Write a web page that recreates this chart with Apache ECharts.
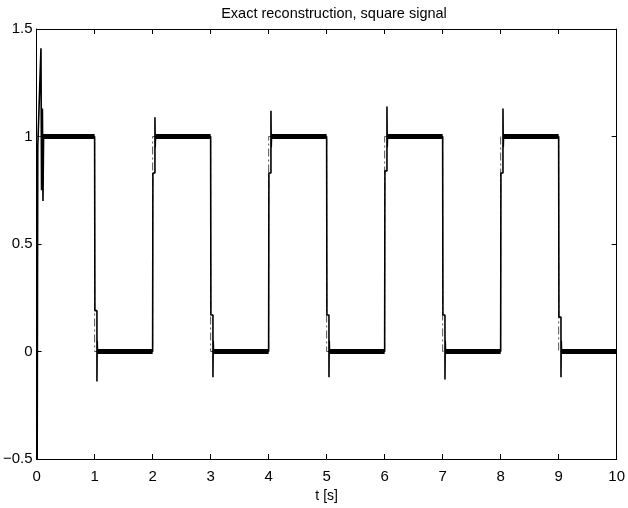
<!DOCTYPE html>
<html>
<head>
<meta charset="utf-8">
<script src="https://cdn.jsdelivr.net/npm/echarts@6/dist/echarts.min.js"></script>
<style>html,body{margin:0;padding:0;background:#fff;}#c{width:628px;height:508px;}</style>
</head>
<body>
<div id="c"></div>
<script>
// Reference square signal (dashed)
const refT = [0, 1, 1, 2, 2, 3, 3, 4, 4, 5, 5, 6, 6, 7, 7, 8, 8, 9, 9, 10];
const refV = [1, 1, 0, 0, 1, 1, 0, 0, 1, 1, 0, 0, 1, 1, 0, 0, 1, 1, 0, 0];

// Reconstruction: transients (thin solid line)
const recT = [0.01, 0.02, 0.075, 0.085, 0.1, 0.11, 0.12, 1.0,
  1.005, 1.04, 1.04, 1.045, 1.05, 2.0,
  2.005, 2.04, 2.04, 2.045, 2.05, 3.0,
  3.005, 3.04, 3.04, 3.045, 3.05, 4.0,
  4.005, 4.04, 4.04, 4.045, 4.05, 5.0,
  5.005, 5.04, 5.04, 5.045, 5.05, 6.0,
  6.005, 6.04, 6.04, 6.045, 6.05, 7.0,
  7.005, 7.04, 7.04, 7.045, 7.05, 8.0,
  8.005, 8.04, 8.04, 8.045, 8.05, 9.0,
  9.005, 9.04, 9.04, 9.045, 9.05, 10.0];
const recV = [-0.5, 0.95, 1.41, 0.75, 1.13, 0.70, 1.0, 1.0,
  0.19, 0.19, -0.14, 0.05, 0.0, 0.0,
  0.83, 0.83, 1.09, 0.95, 1.0, 1.0,
  0.17, 0.17, -0.12, 0.05, 0.0, 0.0,
  0.83, 0.83, 1.12, 0.95, 1.0, 1.0,
  0.17, 0.17, -0.12, 0.05, 0.0, 0.0,
  0.84, 0.84, 1.14, 0.95, 1.0, 1.0,
  0.17, 0.17, -0.13, 0.05, 0.0, 0.0,
  0.83, 0.83, 1.13, 0.95, 1.0, 1.0,
  0.16, 0.16, -0.12, 0.05, 0.0, 0.0];

// Reconstruction plateaus (thick band from small ringing)
const platStart = [0.11, 1.05, 2.05, 3.05, 4.05, 5.05, 6.05, 7.05, 8.05, 9.05];
const platEnd   = [1.0, 2.0, 3.0, 4.0, 5.0, 6.0, 7.0, 8.0, 9.0, 10.0];
const platLevel = [1.0, 0.0, 1.0, 0.0, 1.0, 0.0, 1.0, 0.0, 1.0, 0.0];

const xTicks = ['0','1','2','3','4','5','6','7','8','9','10'];
const yTicks = ['-0.5','0','0.5','1','1.5'];

const refData = refT.map((t, i) => [t, refV[i]]);
const recData = recT.map((t, i) => [t, recV[i]]);
const platData = [];
platStart.forEach((s, i) => {
  platData.push([s, platLevel[i]]);
  platData.push([platEnd[i], platLevel[i]]);
  platData.push([platEnd[i], null]);
});

const FONT = 'Liberation Sans';
const chart = echarts.init(document.getElementById('c'), null, {renderer: 'canvas'});
const axisLineStyle = {color: '#000', width: 1};
chart.setOption({
  animation: false,
  backgroundColor: '#fff',
  title: {
    text: 'Exact reconstruction, square signal',
    left: 329, top: 1, textAlign: 'center',
    textStyle: {fontFamily: FONT, fontSize: 14.5, fontWeight: 'normal', color: '#000'}
  },
  grid: {left: 36, top: 29, right: 6, bottom: 49, containLabel: false},
  xAxis: [{
    type: 'value', min: 0, max: 10, interval: 1,
    name: 't [s]', nameLocation: 'middle', nameGap: 23,
    nameTextStyle: {fontFamily: FONT, fontSize: 14, color: '#000'},
    axisLine: {show: true, onZero: false, lineStyle: axisLineStyle},
    axisTick: {show: true, inside: true, length: 5, lineStyle: axisLineStyle},
    axisLabel: {fontFamily: FONT, fontSize: 15, color: '#000', margin: 10,
      formatter: v => xTicks[Math.round(v)]},
    splitLine: {show: false}
  }, {
    type: 'value', min: 0, max: 10, interval: 1, position: 'top',
    axisLine: {show: true, onZero: false, lineStyle: axisLineStyle},
    axisTick: {show: true, inside: true, length: 5, lineStyle: axisLineStyle},
    axisLabel: {show: false}, splitLine: {show: false}
  }],
  yAxis: [{
    type: 'value', min: -0.5, max: 1.5, interval: 0.5,
    axisLine: {show: true, onZero: false, lineStyle: axisLineStyle},
    axisTick: {show: true, inside: true, length: 5, lineStyle: axisLineStyle},
    axisLabel: {fontFamily: FONT, fontSize: 15, color: '#000', margin: 4,
      formatter: v => { const i = Math.round((v + 0.5) / 0.5); return (yTicks[i] || '').replace('-', '\u2212'); }},
    splitLine: {show: false}
  }, {
    type: 'value', min: -0.5, max: 1.5, interval: 0.5, position: 'right',
    axisLine: {show: true, onZero: false, lineStyle: axisLineStyle},
    axisTick: {show: true, inside: true, length: 5, lineStyle: axisLineStyle},
    axisLabel: {show: false}, splitLine: {show: false}
  }],
  series: [{
    name: 'reference', type: 'line', data: refData, showSymbol: false,
    lineStyle: {color: '#555', width: 1, type: [8, 3, 2, 3]}
  }, {
    name: 'reconstruction', type: 'line', data: recData, showSymbol: false,
    lineStyle: {color: '#000', width: 1.6}
  }, {
    name: 'reconstruction band', type: 'line', data: platData, showSymbol: false,
    connectNulls: false,
    lineStyle: {color: '#000', width: 5, cap: 'butt'}
  }]
});
</script>
</body>
</html>
